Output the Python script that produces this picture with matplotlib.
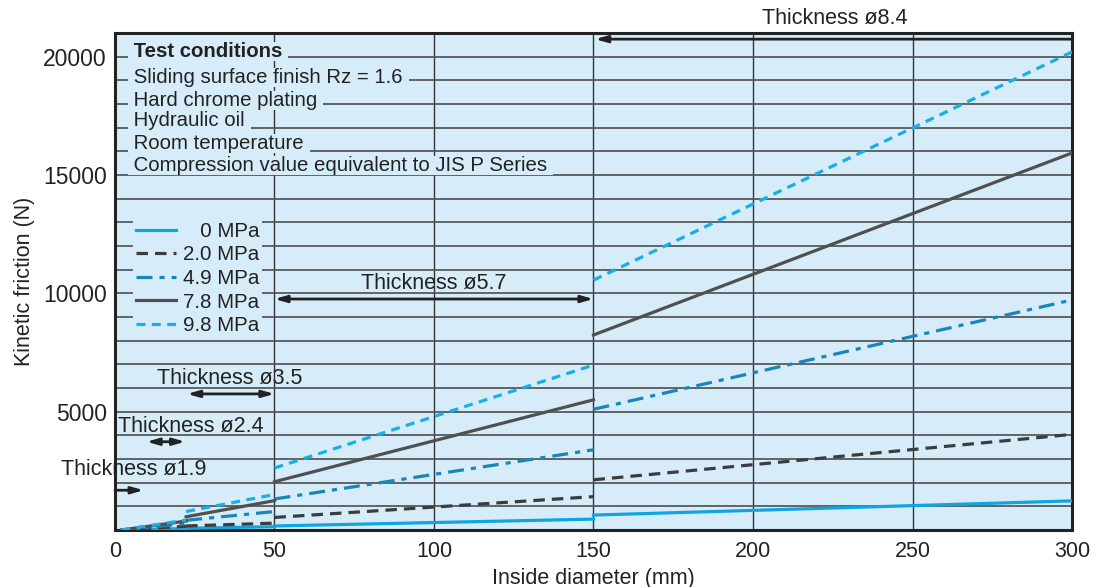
import matplotlib
matplotlib.use("Agg")
import matplotlib.pyplot as plt

plt.rcParams['font.family'] = ['Liberation Sans', 'DejaVu Sans']

# segment end points (inside diameter, mm) for each thickness range
seg_x = [(2, 22.3), (22.3, 50), (50, 150), (150, 300)]

# kinetic friction (N) at the start / end of each segment
p00 = [(0, 60), (70, 140), (170, 460), (630, 1230)]
p20 = [(0, 160), (170, 290), (530, 1410), (2120, 4040)]
p49 = [(0, 270), (410, 780), (1310, 3390), (5100, 9720)]
p78 = [(0, 380), (560, 1240), (2040, 5500), (8240, 15930)]
p98 = [(0, 420), (780, 1500), (2620, 6970), (10560, 20200)]

labels = ["   0 MPa", "2.0 MPa", "4.9 MPa", "7.8 MPa", "9.8 MPa"]
series = [p00, p20, p49, p78, p98]

conditions = ["Test conditions", "Sliding surface finish Rz = 1.6",
              "Hard chrome plating", "Hydraulic oil", "Room temperature",
              "Compression value equivalent to JIS P Series"]
cond_y = [20200, 19120, 18150, 17320, 16350, 15420]

bg = '#d6edf9'
styles = [
    dict(color='#10a4e2', ls='-'),
    dict(color='#3c3c3c', ls=(0, (3.6, 2.2))),
    dict(color='#1786b9', ls=(0, (5, 2.2, 1.6, 2.2))),
    dict(color='#505050', ls='-'),
    dict(color='#1aaee8', ls=(0, (2.8, 2.0))),
]

fig = plt.figure(figsize=(10.93, 5.87), dpi=100)
ax = fig.add_axes([0.1052, 0.0971, 0.8756, 0.8467])
ax.set_facecolor(bg)
ax.set_xlim(0, 300)
ax.set_ylim(0, 21000)

ax.set_xticks(range(0, 301, 50))
ax.set_yticks([5000, 10000, 15000, 20000])
ax.set_yticks(range(1000, 21000, 1000), minor=True)
ax.tick_params(axis='both', which='both', length=0, colors='#222222')
ax.tick_params(axis='y', labelsize=16.5, pad=6)
ax.tick_params(axis='x', labelsize=15.5, pad=8)
ax.grid(axis='y', which='both', color='#4d4d4d', lw=1.2, zorder=0)
ax.grid(axis='x', which='major', color='#333333', lw=1.0, zorder=0)
ax.set_axisbelow(True)
for s in ax.spines.values():
    s.set_linewidth(2.2)
    s.set_color('#222222')

ax.set_xlabel("Inside diameter (mm)", fontsize=15.5, color='#222222', labelpad=4)
ax.set_ylabel("Kinetic friction (N)", fontsize=15.5, color='#222222', labelpad=6)

for vals, st, lab in zip(series, styles, labels):
    for i, ((x0, x1), (y0, y1)) in enumerate(zip(seg_x, vals)):
        ax.plot([x0, x1], [y0, y1], lw=2.3, zorder=3,
                label=lab if i == 0 else None, **st)

leg = ax.legend(loc='upper left', bbox_to_anchor=(0.019, 0.626), fontsize=14.8,
                handlelength=1.95, handletextpad=0.3, labelspacing=0.22,
                borderpad=0.15, borderaxespad=0, frameon=True, fancybox=False)
leg.get_frame().set_facecolor(bg)
leg.get_frame().set_edgecolor('none')
leg.get_frame().set_alpha(1)
leg.set_zorder(4)
for t in leg.get_texts():
    t.set_color('#222222')

# padded with spaces so the background box only covers the text line
for i, (txt, yy) in enumerate(zip(conditions, cond_y)):
    ax.text(4.2, yy, " " + txt + " ", fontsize=14.7, va='center', ha='left', color='#222222',
            fontweight='bold' if i == 0 else 'normal', zorder=4,
            bbox=dict(boxstyle='square,pad=0', fc=bg, ec='none'))

# thickness ranges
arrow_kw = dict(color='#222222', lw=2.0, shrinkA=0, shrinkB=0)
ax.annotate("", xy=(9.0, 1680), xytext=(0, 1680),
            arrowprops=dict(arrowstyle='-|>,head_length=0.7,head_width=0.2', **arrow_kw))
ax.text(-17, 2550, "Thickness ø1.9", fontsize=15.5, va='center', ha='left', color='#222222')
ax.annotate("", xy=(22, 3730), xytext=(9.9, 3730),
            arrowprops=dict(arrowstyle='<|-|>,head_length=0.7,head_width=0.2', **arrow_kw))
ax.text(0.8, 4390, "Thickness ø2.4", fontsize=15.5, va='center', ha='left', color='#222222')
ax.annotate("", xy=(50, 5750), xytext=(22.6, 5750),
            arrowprops=dict(arrowstyle='<|-|>,head_length=0.7,head_width=0.2', **arrow_kw))
ax.text(36, 6420, "Thickness ø3.5", fontsize=15.5, va='center', ha='center', color='#222222')
ax.annotate("", xy=(150, 9760), xytext=(50, 9760),
            arrowprops=dict(arrowstyle='<|-|>,head_length=0.7,head_width=0.2', **arrow_kw))
ax.text(100, 10430, "Thickness ø5.7", fontsize=15.5, va='center', ha='center', color='#222222')
ax.annotate("", xy=(150.5, 20740), xytext=(300, 20740),
            arrowprops=dict(arrowstyle='-|>,head_length=0.7,head_width=0.2', **arrow_kw))
ax.text(225.5, 21630, "Thickness ø8.4", fontsize=15.5, va='center', ha='center',
        color='#222222', clip_on=False)

fig.savefig("out.png", dpi=100, facecolor='white')
